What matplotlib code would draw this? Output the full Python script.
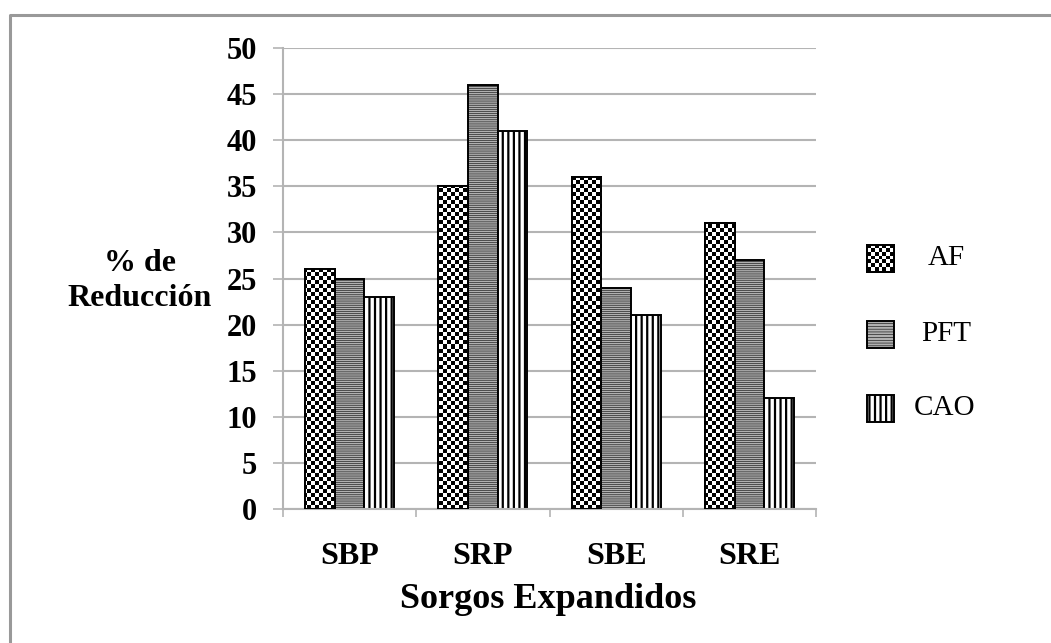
import numpy as np
import matplotlib.pyplot as plt
from matplotlib.lines import Line2D
from matplotlib.patches import Rectangle

plt.rcParams['font.family'] = 'Liberation Serif'
plt.rcParams['hatch.linewidth'] = 1.6

groups = ['SBP', 'SRP', 'SBE', 'SRE']
series = ['AF', 'PFT', 'CAO']
af = [26, 35, 36, 31]
pft = [25, 46, 24, 27]
cao = [23, 41, 21, 12]
yticks = list(range(0, 51, 5))

W, H = 1051, 643
grid_gray = '#b4b4b4'

fig = plt.figure(figsize=(W / 100, H / 100), dpi=100)
ax = fig.add_axes([283 / W, 1 - 509 / H, 533 / W, 461 / H])
ax.set_xlim(-0.5, len(groups) - 0.5)
ax.set_ylim(0, 50)


def set_hatch_lw(bars, lw):
    for b in bars:
        if hasattr(b, 'set_hatch_linewidth'):
            b.set_hatch_linewidth(lw)


def checker_fill(axis, patches, extent, cols, rows):
    # small checkerboard texture, clipped to each patch
    board = (np.indices((rows, cols)).sum(axis=0) % 2).astype(float)
    for p in patches:
        im = axis.imshow(board, cmap='gray', vmin=0, vmax=1, extent=extent,
                         origin='lower', aspect='auto', interpolation='nearest',
                         zorder=2.5)
        im.set_clip_path(p)


x = np.arange(len(groups))
bw = 1 / 4.5
lw_edge = 1.4

b_af = ax.bar(x - bw, af, bw, color='white', edgecolor='black', linewidth=lw_edge, zorder=2)
b_pft = ax.bar(x, pft, bw, color='#b0b0b0', edgecolor='black', linewidth=lw_edge,
               hatch='--------', zorder=2)
b_cao = ax.bar(x + bw, cao, bw, color='white', edgecolor='black', linewidth=lw_edge,
               hatch='|||', zorder=2)
set_hatch_lw(b_pft, 0.4)
set_hatch_lw(b_cao, 1.6)

checker_fill(ax, b_af, (-0.5, len(groups) - 0.5, 0, 50), 133, 115)
# redraw the AF outlines on top of the texture
ax.bar(x - bw, af, bw, fill=False, edgecolor='black', linewidth=lw_edge, zorder=3)
ax.set_xlim(-0.5, len(groups) - 0.5)
ax.set_ylim(0, 50)

# axes styling
ax.set_axisbelow(True)
ax.yaxis.grid(True, color=grid_gray, linewidth=1.5)
for s in ['top', 'right']:
    ax.spines[s].set_visible(False)
for s in ['left', 'bottom']:
    ax.spines[s].set_color(grid_gray)
    ax.spines[s].set_linewidth(1.5)

ax.set_yticks(yticks)
ax.set_yticklabels([str(v) for v in yticks], fontsize=22, fontweight='bold')
ax.tick_params(axis='y', length=7.2, width=1.2, color=grid_gray, pad=11.5)

ax.set_xticks(np.arange(len(groups) + 1) - 0.5)
ax.set_xticklabels([])
ax.tick_params(axis='x', which='major', length=5.8, width=1.2, color=grid_gray)
ax.set_xticks(x, minor=True)
ax.set_xticklabels(groups, minor=True, fontsize=23, fontweight='bold')
ax.tick_params(axis='x', which='minor', length=0, pad=24)

fig.text(140 / W, 1 - 281 / H, '% de\nReducción', ha='center', va='center',
         fontsize=23, fontweight='bold', linespacing=1.3)
fig.text(548 / W, 1 - 599 / H, 'Sorgos Expandidos', ha='center', va='center',
         fontsize=26, fontweight='bold')

# overlay in pixel units for the legend and the outer frame
ov = fig.add_axes([0, 0, 1, 1])
ov.set_xlim(0, W)
ov.set_ylim(0, H)
ov.axis('off')

frame = Line2D([10, 10, W + 5], [-5, H - 15, H - 15], color='#999999',
               linewidth=2.2, clip_on=False)
ov.add_line(frame)

sq = 27
legend_rows = [
    ('AF', 258, 928, dict(facecolor='white')),
    ('PFT', 334, 921, dict(facecolor='#b0b0b0', hatch='------')),
    ('CAO', 408, 914, dict(facecolor='white', hatch='|||')),
]
for name, yc, tx, style in legend_rows:
    y0 = H - yc - sq / 2
    r = Rectangle((867, y0), sq, sq, edgecolor='black', linewidth=lw_edge,
                  zorder=2, **style)
    ov.add_patch(r)
    if name == 'PFT':
        set_hatch_lw([r], 0.4)
    if name == 'CAO':
        set_hatch_lw([r], 1.6)
    if name == 'AF':
        checker_fill(ov, [r], (867, 867 + sq, y0, y0 + sq), 7, 7)
        ov.add_patch(Rectangle((867, y0), sq, sq, fill=False, edgecolor='black',
                               linewidth=lw_edge, zorder=3))
    ov.text(tx, H - yc, name, ha='left', va='center', fontsize=21)

ov.set_xlim(0, W)
ov.set_ylim(0, H)

fig.savefig('out.png', dpi=100)
